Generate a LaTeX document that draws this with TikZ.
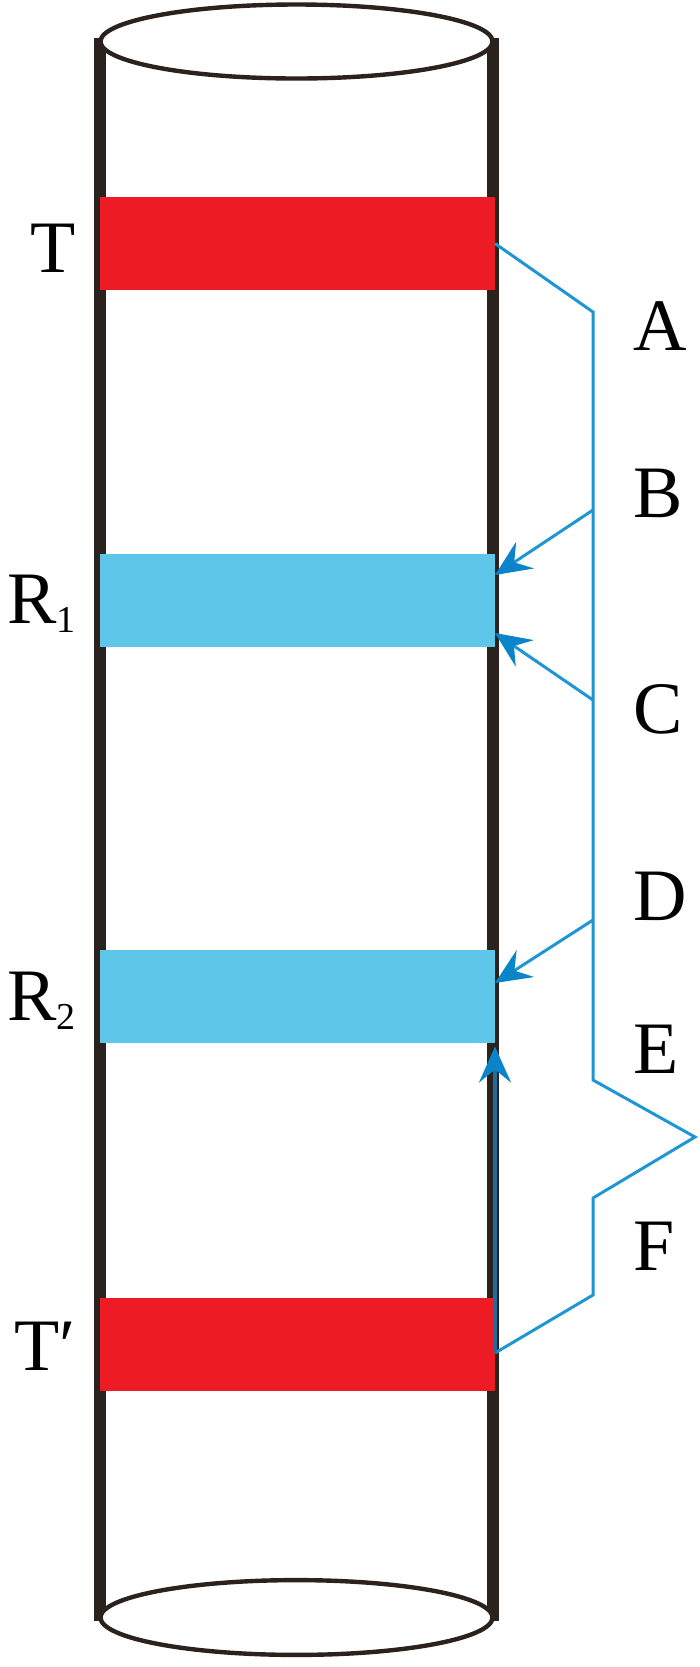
\documentclass[tikz,border=0pt]{standalone}
\usepackage{fontspec}
\setmainfont{Liberation Serif}
\usetikzlibrary{arrows.meta,calc}
\definecolor{wall}{HTML}{2B211D}
\definecolor{bandred}{HTML}{ED1C24}
\definecolor{bandblue}{HTML}{5EC6E8}
\definecolor{raycol}{HTML}{1E96D4}
\definecolor{rayhead}{HTML}{0B84C9}
\definecolor{raydark}{HTML}{1F6E9E}
\begin{document}
\begin{tikzpicture}[x=0.5pt,y=-0.5pt,
  band/.style={draw=none, minimum width=197.5pt, minimum height=46.5pt, inner sep=0pt, outer sep=0pt},
  redband/.style={band, fill=bandred},
  blueband/.style={band, fill=bandblue},
  wallline/.style={draw=wall, line width=6pt},
  rim/.style={draw=wall, line width=2.2pt},
  ray/.style={draw=raycol, line width=1.5pt, line join=miter},
  rayarrow/.style={ray, -{Stealth[length=18pt,width=16pt,inset=6.5pt,color=rayhead]}},
  lbl/.style={font=\fontsize{37}{40}\selectfont, inner sep=0pt},
]
\useasboundingbox (0,0) rectangle (700,1667);
% walls
\draw[wallline] (100,38) -- (100,1621);
\draw[wallline] (493,38) -- (493,1621);
% rims
\draw[rim, fill=white] (296.5,41.5) ellipse [x radius=98pt, y radius=18.5pt];
\draw[rim, fill=white] (296.5,1617.5) ellipse [x radius=98pt, y radius=18.7pt];
% bands
\node[redband] (T) at (297.5,243.5) {};
\node[blueband] (R1) at (297.5,600) {};
\node[blueband] (R2) at (297.5,996) {};
\node[redband] (Tp) at (297.5,1344) {};
% path coordinates
\coordinate (jA) at (593,312);
\coordinate (jB) at (593,510);
\coordinate (jC) at (593,700);
\coordinate (jD) at (593,920);
\coordinate (jE) at (593,1080);
\coordinate (apex) at (695,1137);
\coordinate (jF) at (593,1198);
\coordinate (jG) at (593,1295);
\coordinate (tEnd) at ($(Tp.east)+(0,9)$);
\draw[ray] (T.east) -- (jA) -- (jB) -- (jC) -- (jD) -- (jE) -- (apex) -- (jF) -- (jG) -- (tEnd);
\draw[rayarrow] (jB) -- ($(R1.east)+(0,-25)$);
\draw[rayarrow] (jC) -- ($(R1.east)+(0,33)$);
\draw[rayarrow] (jD) -- ($(R2.east)+(0,-13)$);
\draw[rayarrow, draw=raydark, line width=2pt] (tEnd) -- ($(R2.south east)+(0,4)$);
% right labels
\node[lbl, anchor=base west] (A) at (633,350) {A};
\node[lbl, anchor=base west] (B) at (633,517) {B};
\node[lbl, anchor=base west] (C) at (633,733) {C};
\node[lbl, anchor=base west] (D) at (633,920) {D};
\node[lbl, anchor=base west] (E) at (633,1073) {E};
\node[lbl, anchor=base west] (F) at (633,1270) {F};
% left labels
\node[lbl, anchor=base east] (lT) at (76,272) {T};
\node[lbl, anchor=base east] (lR1) at (76,623) {R\raisebox{-4.5pt}{\fontsize{19}{19}\selectfont 1}};
\node[lbl, anchor=base east] (lR2) at (76,1020) {R\raisebox{-4.5pt}{\fontsize{19}{19}\selectfont 2}};
\node[lbl, anchor=base east] (lTp) at (76,1370) {T′};
\end{tikzpicture}
\end{document}
